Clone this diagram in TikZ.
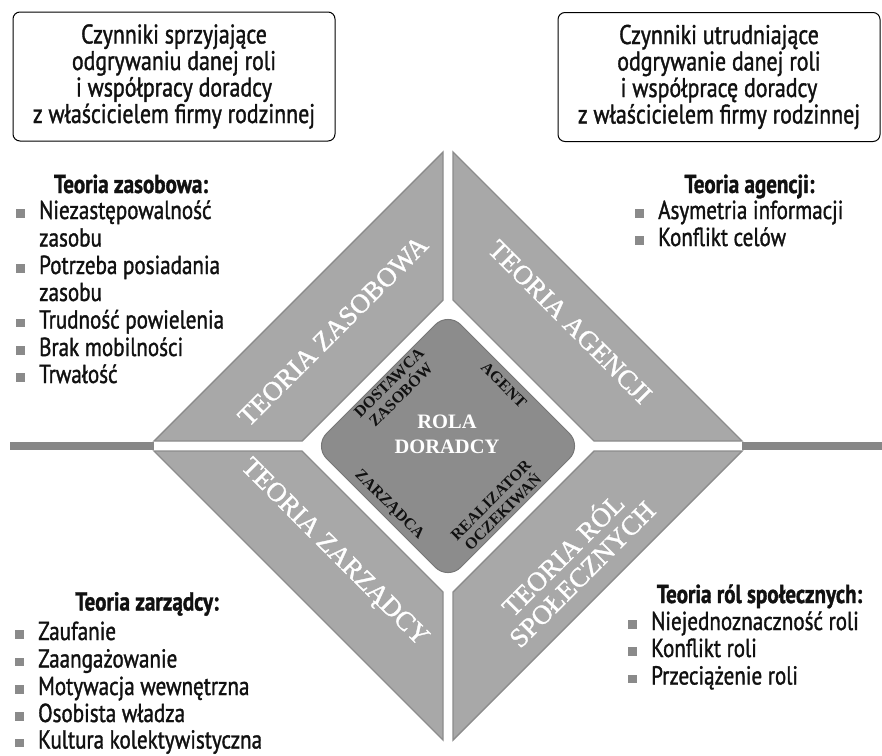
\documentclass[tikz,border=0pt]{standalone}
\usepackage{fontspec}
\setmainfont{Liberation Serif}
\newfontfamily\labelfont[FakeStretch=0.81,FakeBold=1.3]{PT Sans}
\newfontfamily\panelfont[FakeBold=1.2]{Liberation Serif}

\definecolor{panelgray}{HTML}{A8A8A8}
\definecolor{paneledge}{HTML}{8C8C8C}
\definecolor{coregray}{HTML}{8C8C8C}
\definecolor{coreedge}{HTML}{777777}
\definecolor{bargray}{HTML}{878787}
\definecolor{bulgray}{HTML}{8A8A8A}
\definecolor{inktext}{HTML}{111111}

% square list bullet followed by the gap to the item text
\newcommand\sqbullet{\textcolor{bulgray}{\rule[1.5pt]{8.5pt}{8.5pt}}\hspace{14.5pt}}

\begin{document}
\begin{tikzpicture}[x=1pt,y=-1pt,
  panel/.style={fill=panelgray,draw=paneledge,line width=1.4pt,line join=miter},
  core/.style={fill=coregray,draw=coreedge,line width=1pt,rounded corners=18pt},
  sidebar/.style={draw=bargray,line width=8pt},
  factorbox/.style={draw,line width=1pt,rounded corners=7pt,inner sep=0pt,
    minimum width=322pt,minimum height=129pt,align=center,text=inktext,
    font=\labelfont\fontsize{27}{26.5}\selectfont},
  heading/.style={anchor=base,inner sep=0pt,text=inktext,
    font=\labelfont\bfseries\fontsize{26}{27}\selectfont},
  item/.style={anchor=base west,inner sep=0pt,text=inktext,
    font=\labelfont\fontsize{26}{27}\selectfont},
  theory/.style={text=white,font=\panelfont\fontsize{27}{27}\selectfont,align=center,inner sep=0pt},
  role/.style={text=inktext,font=\bfseries\fontsize{16}{17}\selectfont,align=center,inner sep=0pt},
]
\useasboundingbox (0,0) rectangle (882,755);

% horizontal bars reaching out from the side corners of the diamond
\draw[sidebar] (10,446) -- (154,446);
\draw[sidebar] (742,446) -- (882,446);

% four quadrant panels of the diamond, separated by a white cross
\filldraw[panel] (443,152) -- (154,441) -- (302,441) -- (443,300) -- cycle;
\filldraw[panel] (453,152) -- (742,441) -- (594,441) -- (453,300) -- cycle;
\filldraw[panel] (154,451) -- (443,740) -- (443,592) -- (302,451) -- cycle;
\filldraw[panel] (453,740) -- (742,451) -- (594,451) -- (453,592) -- cycle;

% central rounded square
\filldraw[core] (448,312) -- (582,446) -- (448,580) -- (314,446) -- cycle;

% theory names on the panels
\node[theory,rotate=45]  (tzas) at (333,331) {TEORIA ZASOBOWA};
\node[theory,rotate=-45] (tage) at (570,322) {TEORIA AGENCJI};
\node[theory,rotate=-45] (tzar) at (334,553) {TEORIA ZARZĄDCY};
\node[theory,rotate=45]  (trol) at (571,563) {TEORIA RÓL\\SPOŁECZNYCH};

% roles inside the central square
\node[role,rotate=45]  (rdos) at (395,389) {DOSTAWCA\\ZASOBÓW};
\node[role,rotate=-45] (rage) at (504,385) {AGENT};
\node[role,rotate=-45] (rzar) at (389,505) {ZARZĄDCA};
\node[role,rotate=45]  (rrea) at (497,506) {REALIZATOR\\OCZEKIWAŃ};
\node[text=white,font=\bfseries\fontsize{20.5}{25}\selectfont,align=center,inner sep=0pt]
  (rola) at (447,434) {ROLA\\DORADCY};

% framed captions at the top
\node[factorbox] (fav) at (174,76.5) {Czynniki sprzyjające\\odgrywaniu danej roli\\i współpracy doradcy\\z właścicielem firmy rodzinnej};
\node[factorbox] (hin) at (719,77) {Czynniki utrudniające\\odgrywanie danej roli\\i współpracę doradcy\\z właścicielem firmy rodzinnej};

% resource theory list
\node[heading] (hzas) at (131,193) {Teoria zasobowa:};
\node[item] (zas1)  at (16,219)   {\sqbullet Niezastępowalność};
\node[item] (zas1b) at (39,246.5) {zasobu};
\node[item] (zas2)  at (16,274)   {\sqbullet Potrzeba posiadania};
\node[item] (zas2b) at (39,301)   {zasobu};
\node[item] (zas3)  at (16,328.5) {\sqbullet Trudność powielenia};
\node[item] (zas4)  at (16,356)   {\sqbullet Brak mobilności};
\node[item] (zas5)  at (16,383)   {\sqbullet Trwałość};

% agency theory list
\node[heading] (hage) at (749.5,193) {Teoria agencji:};
\node[item] (age1) at (635,219) {\sqbullet Asymetria informacji};
\node[item] (age2) at (635,246) {\sqbullet Konflikt celów};

% stewardship theory list
\node[heading] (hzar) at (147,610.5) {Teoria zarządcy:};
\node[item] (zar1) at (15,640)   {\sqbullet Zaufanie};
\node[item] (zar2) at (15,667.5) {\sqbullet Zaangażowanie};
\node[item] (zar3) at (15,695)   {\sqbullet Motywacja wewnętrzna};
\node[item] (zar4) at (15,722)   {\sqbullet Osobista władza};
\node[item] (zar5) at (15,748.5) {\sqbullet Kultura kolektywistyczna};

% social role theory list
\node[heading] (hrol) at (759.5,603) {Teoria ról społecznych:};
\node[item] (rol1) at (628,630)   {\sqbullet Niejednoznaczność roli};
\node[item] (rol2) at (628,657)   {\sqbullet Konflikt roli};
\node[item] (rol3) at (628,684.5) {\sqbullet Przeciążenie roli};
\end{tikzpicture}
\end{document}
